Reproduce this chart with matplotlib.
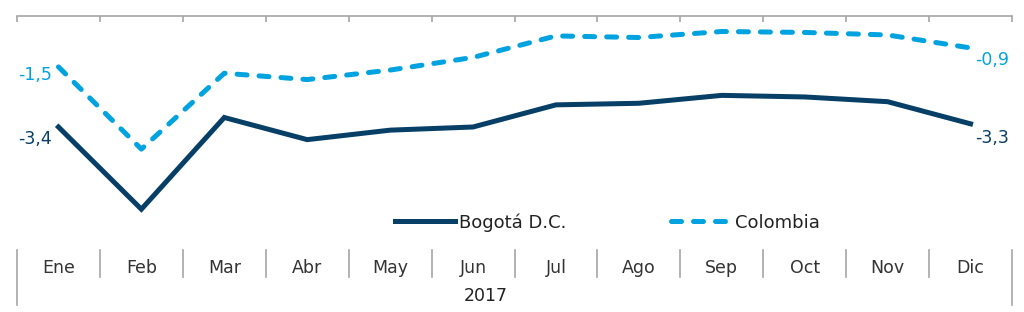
import numpy as np
import matplotlib
matplotlib.use("Agg")
import matplotlib.pyplot as plt
import matplotlib.transforms as mtrans

meses = ["Ene", "Feb", "Mar", "Abr", "May", "Jun", "Jul", "Ago", "Sep", "Oct", "Nov", "Dic"]
bogota = [-3.4, -6.0, -3.1, -3.8, -3.5, -3.4, -2.7, -2.65, -2.4, -2.45, -2.6, -3.3]
colombia = [-1.5, -4.1, -1.7, -1.9, -1.6, -1.2, -0.52, -0.57, -0.38, -0.41, -0.49, -0.9]
anio = "2017"

navy = "#073f66"
azul = "#00a3e0"
gris = "#a6a6a6"

plt.rcParams["font.family"] = ["DejaVu Sans"]


def etiqueta(v):
    return f"{v:.1f}".replace(".", ",")


def main():
    fig = plt.figure(figsize=(10.24, 3.12), dpi=100)
    ax = fig.add_axes([17/1024, 1 - 250/312, 995/1024, 234/312])
    x = np.arange(len(meses))

    ax.plot(x, bogota, color=navy, lw=3.6, solid_joinstyle="miter",
            label="Bogotá D.C.")
    ax.plot(x, colombia, color=azul, lw=3.6, dashes=(2.0, 2.4),
            dash_capstyle="round", label="Colombia")

    ax.set_xlim(-0.5, len(meses) - 0.5)
    ax.set_ylim(-7.29, 0.11)

    for s in ["left", "right", "bottom"]:
        ax.spines[s].set_visible(False)
    ax.spines["top"].set_color(gris)
    ax.spines["top"].set_linewidth(1.2)
    ax.set_yticks([])

    ax.set_xticks(x)
    ax.set_xticklabels(meses, fontsize=12.5, color="#333333")
    ax.tick_params(axis="x", which="major", length=0, pad=6.3)
    ax.set_xticks(np.arange(len(meses) + 1) - 0.5, minor=True)
    ax.tick_params(axis="x", which="minor", bottom=False, top=True,
                   direction="in", length=4, color=gris, width=1.2)

    # separadores de categoria bajo el eje
    tr = mtrans.blended_transform_factory(ax.transData, ax.transAxes)
    bordes = np.arange(len(meses) + 1) - 0.5
    for i, b in enumerate(bordes):
        fondo = -0.235 if i in (0, len(bordes) - 1) else -0.115
        ax.plot([b, b], [0, fondo], color=gris, lw=1.2, transform=tr,
                clip_on=False)
    ax.text(5.15, -0.195, anio, transform=tr, ha="center", va="center",
            fontsize=12.5, color="#222222")

    # etiquetas de inicio y fin
    ax.annotate(etiqueta(bogota[0]), (x[0], bogota[0]), xytext=(-5, -8.5),
                textcoords="offset points", ha="right", va="center",
                fontsize=12.5, color=navy)
    ax.annotate(etiqueta(colombia[0]), (x[0], colombia[0]), xytext=(-5, -5.5),
                textcoords="offset points", ha="right", va="center",
                fontsize=12.5, color=azul)
    ax.annotate(etiqueta(bogota[-1]), (x[-1], bogota[-1]), xytext=(3, -10.5),
                textcoords="offset points", ha="left", va="center",
                fontsize=12.5, color=navy)
    ax.annotate(etiqueta(colombia[-1]), (x[-1], colombia[-1]), xytext=(3, -8.5),
                textcoords="offset points", ha="left", va="center",
                fontsize=12.5, color=azul)

    ax.legend(loc="center", bbox_to_anchor=(0.5935, 0.118), ncol=2,
              frameon=False, fontsize=13, handlelength=3.3,
              handletextpad=0.25, columnspacing=5.8, labelcolor="#222222")

    fig.savefig("out.png", dpi=100)


main()
